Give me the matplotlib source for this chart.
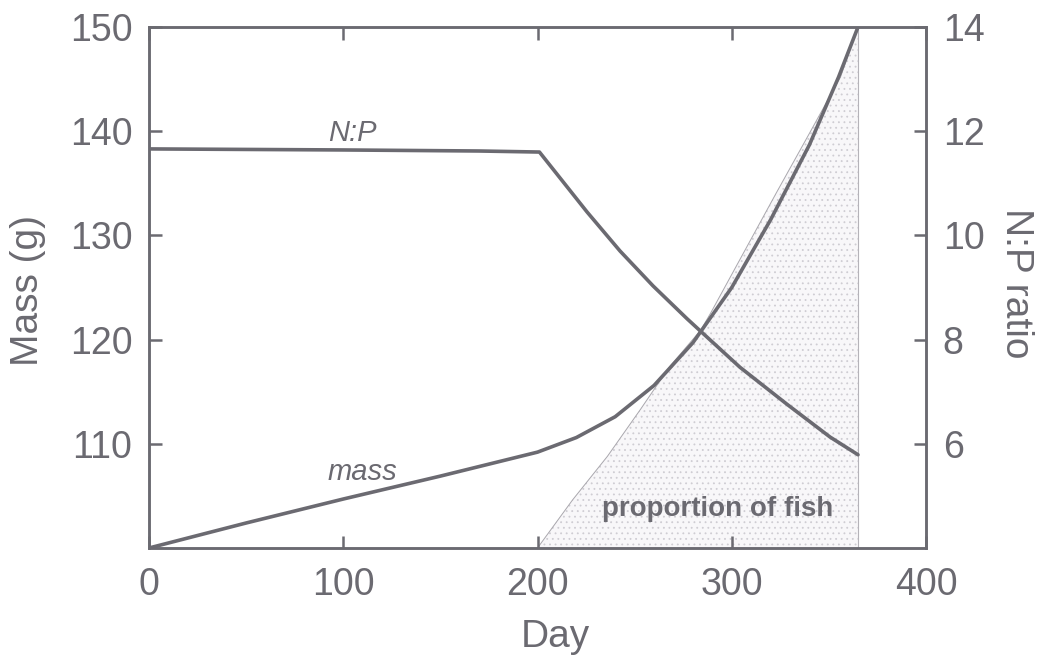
import matplotlib
matplotlib.use("Agg")
import matplotlib.pyplot as plt

plt.rcParams['font.family'] = ['Liberation Sans', 'DejaVu Sans']
plt.rcParams['hatch.color'] = '#cfcdd3'
plt.rcParams['hatch.linewidth'] = 0.6

# ---- data ----
mass_day = [0, 50, 100, 150, 200, 220, 240, 260, 280, 300, 320, 340, 355, 365]
mass_g = [100, 102.4, 104.7, 106.9, 109.2, 110.6, 112.6, 115.6, 119.7, 125.0, 131.5, 138.7, 145.2, 150.0]

np_day = [0, 100, 170, 201, 225.5, 242.5, 259.5, 277, 283.7, 304.2, 328.4, 350.6, 365]
np_ratio = [11.66, 11.64, 11.62, 11.6, 10.45, 9.70, 9.03, 8.40, 8.17, 7.47, 6.76, 6.13, 5.79]

fish_day = [200, 218, 236, 253, 268, 284, 289, 306, 323, 340, 356, 365]
fish_prop = [0.0, 0.092, 0.176, 0.266, 0.348, 0.418, 0.45, 0.566, 0.682, 0.796, 0.904, 1.0]

x_ticks = [0, 100, 200, 300, 400]
mass_ticks = [110, 120, 130, 140, 150]
ratio_ticks = [6, 8, 10, 12, 14]

GRAY = '#6b6a71'

fig = plt.figure(figsize=(10.45, 6.6), dpi=100)
ax = fig.add_axes([149/1045, 1-548/660, 777/1045, 521/660])
ax2 = ax.twinx()
ax3 = ax.twinx()

# proportion of fish (hidden axis 0..1)
ax3.set_ylim(0, 1)
ax3.axis('off')
ax3.fill_between(fish_day, 0, fish_prop, facecolor='#f8f7f9', edgecolor='#cfcdd3',
                 hatch='...', linewidth=0)
ax3.plot(fish_day, fish_prop, color='#a9a7ad', lw=0.7)
ax3.plot([fish_day[-1], fish_day[-1]], [0, fish_prop[-1]], color='#b5b3b9', lw=0.8)

ax.plot(mass_day, mass_g, color=GRAY, lw=2.6, zorder=5, solid_capstyle='round')
ax2.plot(np_day, np_ratio, color=GRAY, lw=2.6, zorder=5, solid_capstyle='round')

ax.set_xlim(0, 400)
ax.set_ylim(100, 150)
ax2.set_ylim(4, 14)
ax.set_xticks(x_ticks)
ax.set_yticks(mass_ticks)
ax2.set_yticks(ratio_ticks)

ax.set_zorder(3)
ax2.set_zorder(4)
ax3.set_zorder(1)
ax.patch.set_visible(False)
ax2.patch.set_visible(False)

for a in (ax, ax2):
    for s in a.spines.values():
        s.set_color(GRAY)
        s.set_linewidth(1.8)

ax.tick_params(axis='both', direction='in', length=9, width=1.8, color=GRAY,
               labelcolor=GRAY, labelsize=27, pad=12, top=True)
ax.tick_params(axis='x', pad=14)
ax2.tick_params(axis='y', direction='in', length=9, width=1.8, color=GRAY,
                labelcolor=GRAY, labelsize=27, pad=12)

fig.text(555/1045, 1-637/660, 'Day', fontsize=28, color=GRAY, ha='center', va='center')
fig.text(28/1045, 1-290/660, 'Mass (g)', fontsize=28, color=GRAY, ha='center', va='center',
         rotation=90)
fig.text(1016/1045, 1-283/660, 'N:P ratio', fontsize=28, color=GRAY, ha='center', va='center',
         rotation=270)

ax.text(104.5, 139.06, 'N:P', fontsize=21, style='italic', color=GRAY, ha='center', va='baseline')
ax.text(109.7, 106.5, 'mass', fontsize=21, style='italic', color=GRAY, ha='center', va='baseline')
ax.text(292.9, 103.1, 'proportion of fish', fontsize=20, weight='bold', color=GRAY,
        ha='center', va='baseline', zorder=6)

fig.savefig('out.png', dpi=100, facecolor='white')
